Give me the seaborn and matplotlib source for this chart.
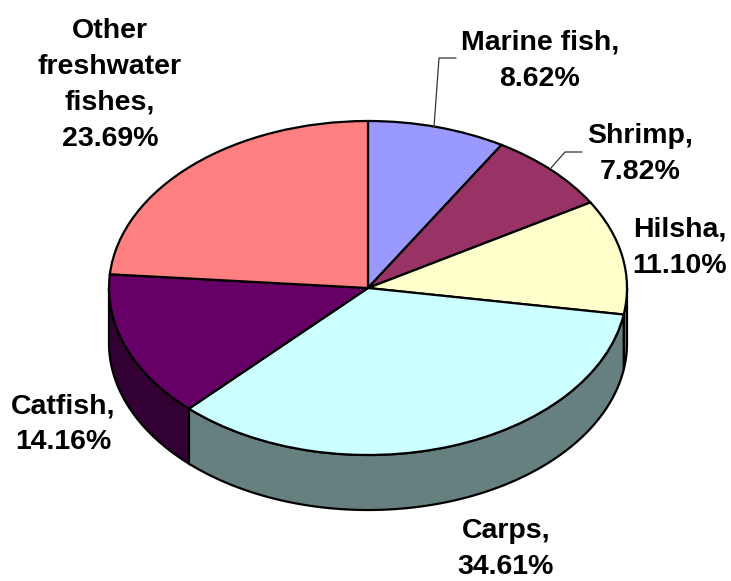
import numpy as np
import matplotlib
matplotlib.use("Agg")
import matplotlib.pyplot as plt
from matplotlib.lines import Line2D
import seaborn as sns

categories = ["Marine fish", "Shrimp", "Hilsha", "Carps", "Catfish", "Other\nfreshwater\nfishes"]
shares = [8.62, 7.82, 11.10, 34.61, 14.16, 23.69]
top_colors = ["#9999FF", "#993366", "#FFFFCC", "#CCFFFF", "#660066", "#FF8080"]
side_colors = ["#4D4D80", "#4D1A33", "#808066", "#667F7F", "#330033", "#804040"]

W, H = 731, 581
CX, CY, RX, RY, DEPTH = 368, 288, 259, 167, 55

sns.set_theme(style="white")
plt.rcParams["font.family"] = ["Liberation Sans", "DejaVu Sans"]

fig = plt.figure(figsize=(W / 100, H / 100), dpi=100)
ax = fig.add_axes([0, 0, 1, 1])

wedges, _ = ax.pie(shares, colors=top_colors, startangle=90, counterclock=False,
                   wedgeprops=dict(edgecolor="black", linewidth=1.6, zorder=3))

# Extruded rim: the part of each slice's arc on the lower half of the ellipse
d = DEPTH / RY
for w, col in zip(wedges, side_colors):
    a0, a1 = w.theta1, w.theta2
    for lo, hi in [(-180, 0), (180, 360)]:
        s, e = max(a0, lo), min(a1, hi)
        if e <= s:
            continue
        t = np.radians(np.linspace(s, e, 200))
        xs = np.cos(t)
        ys = np.sin(t)
        ax.fill(np.r_[xs, xs[::-1]], np.r_[ys, ys[::-1] - d],
                facecolor=col, edgecolor="black", linewidth=1.6, zorder=2)

ax.set_aspect("auto")
ax.set_xlim(-CX / RX, (W - CX) / RX)
ax.set_ylim((CY - H) / RY, CY / RY)
ax.axis("off")

# Labels
label_pos = [(540, 61), (640, 154), (680, 248), (506, 549), (63, 424), (110, 85)]
for name, val, (px, py) in zip(categories, shares, label_pos):
    fig.text(px / W, 1 - py / H, f"{name},\n{val:.2f}%", ha="center", va="center",
             fontsize=20.5, fontweight="bold", color="black", linespacing=1.5)

# Leader lines
for xs, ys in [((434, 439, 456), (127, 58, 58)), ((551, 565, 582), (168, 152, 152))]:
    fig.add_artist(Line2D(np.array(xs) / W, 1 - np.array(ys) / H,
                          color="#333333", linewidth=0.9, transform=fig.transFigure))

fig.savefig("out.png", dpi=100, facecolor="white")
